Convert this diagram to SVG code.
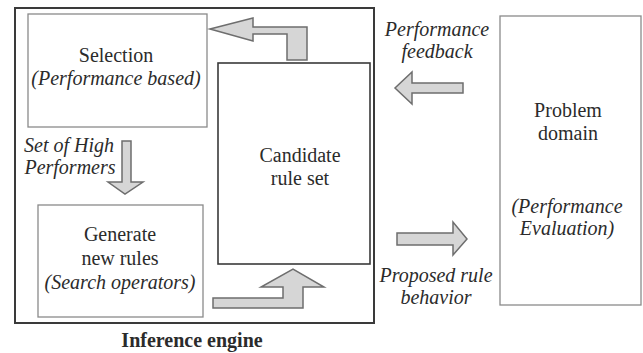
<svg xmlns="http://www.w3.org/2000/svg" width="643" height="353" viewBox="0 0 643 353">
<style>
  .t { font-family: "Liberation Serif", "Times New Roman", serif; font-size: 20px; fill: #2b2b2b; text-anchor: middle; }
  .i { font-style: italic; }
  .b { font-weight: bold; }
  .thin { fill: #fff; stroke: #8a8a8a; stroke-width: 1.3; }
  .dark { fill: none; stroke: #3a3a3a; stroke-width: 2; }
  .arr { fill: #d6d6d6; stroke: #6e6e6e; stroke-width: 1.5; stroke-linejoin: miter; }
</style>
<rect x="0" y="0" width="643" height="353" fill="#fff"/>
<g id="inference-engine">
  <rect class="dark" x="15" y="8" width="359" height="315"/>
  <text class="t b" x="192" y="347">Inference engine</text>
</g>
<g id="selection">
  <rect class="thin" x="28" y="14" width="179" height="113"/>
  <text class="t" x="116" y="62">Selection</text>
  <text class="t i" x="116" y="85">(Performance based)</text>
</g>
<g id="candidate">
  <rect x="218" y="63" width="152" height="201" fill="#fff" stroke="#3a3a3a" stroke-width="1.6"/>
  <text class="t" x="300" y="162">Candidate</text>
  <text class="t" x="300" y="185">rule set</text>
</g>
<g id="generate">
  <rect class="thin" x="38" y="205" width="165" height="112"/>
  <text class="t" x="120" y="241">Generate</text>
  <text class="t" x="120" y="265">new rules</text>
  <text class="t i" x="120" y="289">(Search operators)</text>
</g>
<g id="problem-domain">
  <rect class="thin" x="500" y="16" width="141" height="289"/>
  <text class="t" x="568" y="117">Problem</text>
  <text class="t" x="568" y="140">domain</text>
  <text class="t i" x="567" y="213">(Performance</text>
  <text class="t i" x="567" y="235">Evaluation)</text>
</g>
<g id="connectors">
  <polygon class="arr" points="210,29 253,18 253,27 307,27 307,60 287,60 287,34 253,34 253,41"/>
  <polygon class="arr" points="122,141 131,141 131,182 143,182 125,194 108,182 122,182"/>
  <polygon class="arr" points="213,298 283,298 283,287 261,287 293,269 324,287 303,287 303,308 213,308"/>
  <polygon class="arr" points="463,83 463,93 412,93 412,104 395,88 412,72 412,83"/>
  <polygon class="arr" points="397,233 453,233 453,222 467,239 453,255 453,245 397,245"/>
  <text class="t i" x="69" y="152">Set of High</text>
  <text class="t i" x="70" y="174">Performers</text>
  <text class="t i" x="437" y="36">Performance</text>
  <text class="t i" x="437" y="58">feedback</text>
  <text class="t i" x="436" y="282">Proposed rule</text>
  <text class="t i" x="436" y="304">behavior</text>
</g>
</svg>
